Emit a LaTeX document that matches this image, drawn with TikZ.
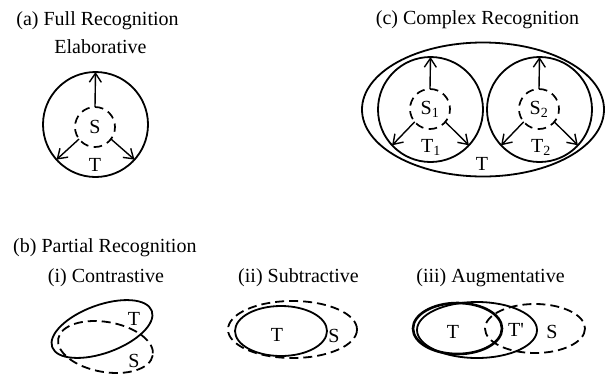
\documentclass[tikz,border=0pt]{standalone}
\usepackage{fontspec}
\setmainfont{Liberation Serif}
\usetikzlibrary{arrows.meta}
\begin{document}
\begin{tikzpicture}[x=1pt,y=-1pt,
  font=\fontsize{20}{24}\selectfont,
  lw/.style={line width=1.8pt},
  outer/.style={circle, draw, line width=1.8pt, minimum size=105pt, inner sep=0pt, outer sep=0pt},
  src/.style={circle, draw, line width=1.7pt, dash pattern=on 8.5pt off 5.47pt, dash phase=5pt, minimum size=40pt, inner sep=0pt, outer sep=0pt},
  arr/.style={line width=1.4pt, -{Straight Barb[length=9pt,width=12pt]}},
  lbl/.style={inner sep=0pt},
  dsh/.style={line width=1.8pt, dash pattern=on 9pt off 5pt}
]
\useasboundingbox (0,0) rectangle (605,373);

% titles
\node[lbl, anchor=base] (ta) at (97.5,25) {(a) Full Recognition};
\node[lbl, anchor=base] (tae) at (100.5,53) {Elaborative};
\node[lbl, anchor=base] (tc) at (477.5,24) {(c) Complex Recognition};
\node[lbl, anchor=base west] (tb) at (13,252) {(b) Partial Recognition};
\node[lbl, anchor=base] (tb1) at (106,282) {(i) Contrastive};
\node[lbl, anchor=base] (tb2) at (298.5,282) {(ii) Subtractive};
\node[lbl, anchor=base] (tb3) at (490.5,282) {(iii) Augmentative};

% (a)
\node[outer] (Ta) at (95.5,124.5) {};
\node[src] (Sa) at (95,127) {S};
\node[lbl, anchor=base] (Tla) at (95,171) {T};
\draw[arr] (Sa.north) -- (Ta.north);
\draw[arr] (Sa.-143) -- (Ta.-138);
\draw[arr] (Sa.-37) -- (Ta.-42);

% (c)
\draw[lw] (483,109.5) ellipse [x radius=121, y radius=67];
\node[outer] (T1) at (430.5,109.5) {};
\node[outer] (T2) at (539.5,109.5) {};
\node[src] (S1) at (430,109) {S\textsubscript{1}};
\node[src] (S2) at (539,109) {S\textsubscript{2}};
\draw[arr] (S1.north) -- (T1.north);
\draw[arr] (S1.-140) -- (T1.-137);
\draw[arr] (S1.-40) -- (T1.-43);
\draw[arr] (S2.north) -- (T2.north);
\draw[arr] (S2.-140) -- (T2.-137);
\draw[arr] (S2.-40) -- (T2.-43);
\node[lbl, anchor=base] (T1l) at (431,152) {T\textsubscript{1}};
\node[lbl, anchor=base] (T2l) at (541,152) {T\textsubscript{2}};
\node[lbl, anchor=base] (Tcl) at (482,170) {T};

% (b)(i)
\draw[lw, rotate around={20:(102,329)}] (102,329) ellipse [x radius=53, y radius=24];
\draw[dsh, rotate around={-10:(105.5,347)}] (105.5,347) ellipse [x radius=48, y radius=25];
\node[lbl] (Tb1) at (134,319) {T};
\node[lbl] (Sb1) at (134,361) {S};

% (b)(ii)
\draw[lw] (281,331) ellipse [x radius=46, y radius=25];
\draw[dsh] (292.5,329.5) ellipse [x radius=64.5, y radius=28.5];
\node[lbl] (Tb2) at (277,335) {T};
\node[lbl] (Sb2) at (334,336) {S};

% (b)(iii)
\draw[line width=2.6pt] (457.5,328.5) ellipse [x radius=44.5, y radius=25.5];
\draw[lw] (477,330) ellipse [x radius=60, y radius=28];
\draw[dsh] (535,328.5) ellipse [x radius=50, y radius=24.5];
\node[lbl] (Tb3) at (453,332) {T};
\node[lbl] (Tpb3) at (516,330) {T\textquotesingle};
\node[lbl] (Sb3) at (552,332) {S};
\end{tikzpicture}
\end{document}
